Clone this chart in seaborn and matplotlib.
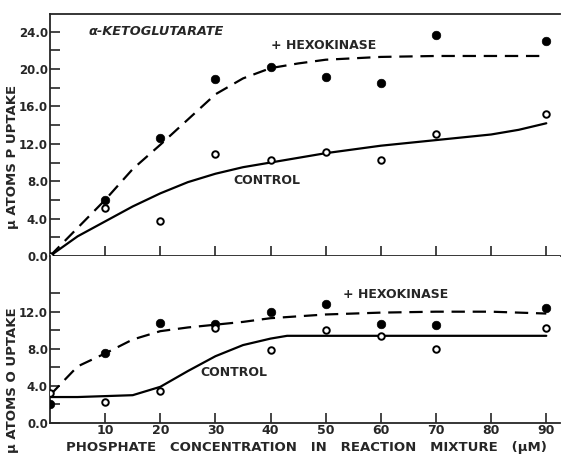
import seaborn as sns
import matplotlib.pyplot as plt
import matplotlib.ticker as mticker
import pandas as pd

# measured points (x = phosphate concentration, uM)
conc = [0, 10, 20, 30, 40, 50, 60, 70, 90]
p_hexo = [None, 6.0, 12.6, 18.9, 20.2, 19.1, 18.5, 23.6, 23.0]
p_ctrl = [0.0, 5.1, 3.7, 10.9, 10.3, 11.1, 10.3, 13.1, 15.2]
o_hexo = [2.0, 7.5, 10.8, 10.7, 12.0, 12.8, 10.7, 10.6, 12.4]
o_ctrl = [3.2, 2.3, 3.5, 10.2, 7.9, 10.0, 9.4, 8.0, 10.2]

# hand drawn curves
p_hexo_cx = [0, 5, 10, 15, 20, 25, 30, 35, 40, 45, 50, 60, 70, 80, 90]
p_hexo_cy = [0, 3.0, 6.0, 9.3, 11.9, 14.6, 17.3, 19.0, 20.1, 20.6, 21.0, 21.3, 21.4, 21.4, 21.4]
p_ctrl_cx = [0, 5, 10, 15, 20, 25, 30, 35, 40, 45, 50, 60, 70, 80, 85, 90]
p_ctrl_cy = [0, 2.1, 3.7, 5.3, 6.7, 7.9, 8.8, 9.5, 10.0, 10.5, 11.0, 11.8, 12.4, 13.0, 13.5, 14.2]
o_hexo_cx = [0, 5, 10, 15, 20, 25, 30, 35, 40, 50, 60, 70, 80, 90]
o_hexo_cy = [3.0, 6.1, 7.5, 9.0, 9.9, 10.3, 10.6, 10.9, 11.3, 11.7, 11.9, 12.0, 12.0, 11.8]
o_ctrl_cx = [0, 5, 10, 15, 20, 25, 30, 35, 40, 43, 50, 60, 70, 80, 90]
o_ctrl_cy = [2.8, 2.8, 2.9, 3.0, 3.9, 5.6, 7.2, 8.4, 9.1, 9.4, 9.4, 9.4, 9.4, 9.4, 9.4]

x_ticks = [10, 20, 30, 40, 50, 60, 70, 80, 90]

sns.set_style("ticks")
plt.rcParams['font.family'] = ['DejaVu Sans']
plt.rcParams['font.weight'] = 'bold'

fig = plt.figure(figsize=(5.63, 4.55), dpi=100)
ax1 = fig.add_axes([0.0888, 0.4374, 0.906, 0.532])
ax2 = fig.add_axes([0.0888, 0.0703, 0.906, 0.367])


def draw_panel(ax, hexo, ctrl, hx, hy, cx, cy):
    sns.lineplot(x=hx, y=hy, ax=ax, color='black', lw=1.6, dashes=False,
                 linestyle=(0, (6, 3.5)), sort=False)
    sns.lineplot(x=cx, y=cy, ax=ax, color='black', lw=1.6, sort=False)
    df = pd.DataFrame({'x': conc, 'hexo': hexo, 'ctrl': ctrl})
    sns.scatterplot(data=df, x='x', y='hexo', ax=ax, color='black', s=38,
                    edgecolor='black', zorder=4)
    sns.scatterplot(data=df, x='x', y='ctrl', ax=ax, facecolor='white', s=22,
                    edgecolor='black', linewidth=1.4, zorder=4)
    ax.set_xlim(0, 92.5)
    ax.set_xticks(x_ticks)
    ax.yaxis.set_minor_locator(mticker.MultipleLocator(2))
    ax.yaxis.set_major_formatter(mticker.FormatStrFormatter('%.1f'))
    ax.tick_params(direction='in', length=7, width=1.2, labelsize=9, pad=2)
    ax.tick_params(axis='y', labelsize=8.5, pad=1.5)
    ax.tick_params(which='minor', direction='in', length=7, width=1.2)
    ax.tick_params(axis='x', pad=1)
    ax.spines['right'].set_visible(False)
    for s in ['left', 'bottom', 'top']:
        ax.spines[s].set_linewidth(1.3)
    ax.set_xlabel('')
    ax.set_ylabel('')


draw_panel(ax1, p_hexo, p_ctrl, p_hexo_cx, p_hexo_cy, p_ctrl_cx, p_ctrl_cy)
draw_panel(ax2, o_hexo, o_ctrl, o_hexo_cx, o_hexo_cy, o_ctrl_cx, o_ctrl_cy)

ax1.set_ylim(0, 25.9)
ax1.set_yticks([0, 4, 8, 12, 16, 20, 24])
ax1.tick_params(axis='x', labelbottom=False)
ax2.set_ylim(0, 18)
ax2.set_yticks([0, 4, 8, 12])
ax2.yaxis.set_minor_locator(mticker.FixedLocator([2, 6, 10, 14]))
ax2.spines['top'].set_visible(False)

ax1.text(7, 24.0, 'α-KETOGLUTARATE', style='italic', fontsize=9.3, va='center')
ax1.text(40, 22.5, '+ HEXOKINASE', fontsize=9, va='center')
ax1.text(33.2, 8.1, 'CONTROL', fontsize=9, va='center')
ax2.text(53.2, 13.8, '+ HEXOKINASE', fontsize=9, va='center')
ax2.text(27.2, 5.4, 'CONTROL', fontsize=9, va='center')

fig.text(0.022, 0.654, 'μ ATOMS P UPTAKE', rotation=90, fontsize=9.5,
         ha='center', va='center')
fig.text(0.022, 0.165, 'μ ATOMS O UPTAKE', rotation=90, fontsize=9.5,
         ha='center', va='center')
fig.text(0.545, 0.002, 'PHOSPHATE   CONCENTRATION   IN   REACTION   MIXTURE   (μM)',
         fontsize=9.5, ha='center', va='bottom')

fig.savefig('out.png', dpi=100)
